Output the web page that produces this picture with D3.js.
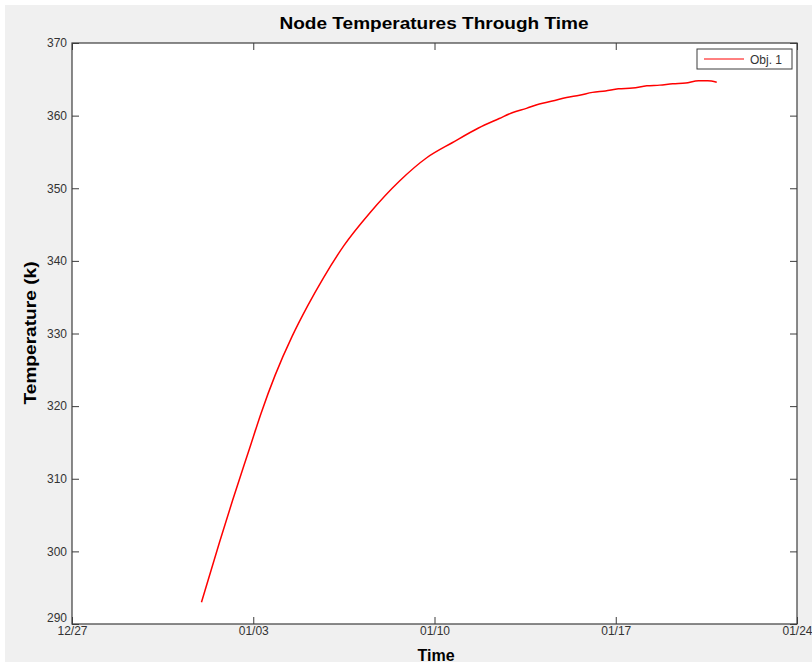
<!DOCTYPE html>
<html>
<head>
<meta charset="utf-8">
<script src="https://cdn.jsdelivr.net/npm/d3@7"></script>
<style>
  html, body { margin: 0; padding: 0; background: #ffffff; }
  svg { display: block; }
</style>
</head>
<body>
<svg id="chart" width="812" height="666"></svg>
<script>
// ---- data ----
const startDate = "2013-12-27";           // axis origin (12/27)
const endDate = "2014-01-24";             // axis end (01/24)
const xTickLabels = ["12/27", "01/03", "01/10", "01/17", "01/24"];
const yTicks = [290, 300, 310, 320, 330, 340, 350, 360, 370];
const seriesName = "Obj. 1";
// elapsed days since 12/27 and node temperature (K)
const elapsedDays = [5.00, 5.70, 6.20, 6.86, 7.30, 7.85, 8.50, 9.10, 9.70, 10.50, 11.50, 12.65, 13.70, 14.70, 15.70, 16.50, 17.00, 17.55, 18.05, 18.55, 19.10, 19.60, 20.10, 20.60, 21.10, 21.65, 22.20, 22.70, 23.20, 23.70, 24.20, 24.55, 24.90];
const temperatures = [293.0, 301.3, 307.0, 314.2, 319.0, 324.3, 329.6, 333.8, 337.6, 342.1, 346.6, 351.0, 354.2, 356.3, 358.3, 359.6, 360.4, 361.0, 361.6, 362.0, 362.5, 362.8, 363.2, 363.4, 363.7, 363.8, 364.1, 364.2, 364.4, 364.5, 364.8, 364.8, 364.6];

// ---- layout ----
const svg = d3.select("#chart");
const W = 812, H = 666;
const m = { left: 72, right: 797, top: 43, bottom: 624 };

svg.append("rect").attr("x", 5).attr("y", 5).attr("width", W - 5).attr("height", 657).attr("fill", "#f0f0f0");

const t0 = new Date(startDate + "T00:00:00Z");
const t1 = new Date(endDate + "T00:00:00Z");
const x = d3.scaleUtc().domain([t0, t1]).range([m.left, m.right]);
const y = d3.scaleLinear().domain([290, 370]).range([m.bottom, m.top]);

const data = elapsedDays.map((d, i) => ({ t: new Date(t0.getTime() + d * 864e5), v: temperatures[i] }));
const xTickDates = xTickLabels.map((_, i) => d3.utcDay.offset(t0, 7 * i));
const fmt = d3.utcFormat("%m/%d");

// plot area
svg.append("rect").attr("x", m.left).attr("y", m.top)
  .attr("width", m.right - m.left).attr("height", m.bottom - m.top)
  .attr("fill", "#ffffff");

const axisColor = "#3c3c3c";
const tickFont = "'Liberation Sans', Arial, sans-serif";

// bottom axis
const gx = svg.append("g").attr("transform", `translate(0,${m.bottom})`)
  .call(d3.axisBottom(x).tickValues(xTickDates).tickFormat(fmt).tickSizeInner(-7).tickSizeOuter(0).tickPadding(4));
gx.select(".domain").remove();
gx.selectAll("line").attr("stroke", axisColor);
gx.selectAll("text").attr("font-family", tickFont).attr("font-size", 12).attr("fill", "#333").attr("dy", "0.6em");

// top ticks
const gxt = svg.append("g").attr("transform", `translate(0,${m.top})`)
  .call(d3.axisTop(x).tickValues(xTickDates).tickFormat("").tickSizeInner(-7).tickSizeOuter(0));
gxt.select(".domain").remove();
gxt.selectAll("line").attr("stroke", axisColor);

// left axis
const gy = svg.append("g").attr("transform", `translate(${m.left},0)`)
  .call(d3.axisLeft(y).tickValues(yTicks).tickFormat(d3.format("d")).tickSizeInner(-7).tickSizeOuter(0).tickPadding(5));
gy.select(".domain").remove();
gy.selectAll("line").attr("stroke", axisColor);
gy.selectAll("text").attr("font-family", tickFont).attr("font-size", 12).attr("fill", "#333");
gy.selectAll(".tick").filter(d => d === 290).select("text").attr("dy", "-0.2em");

// right ticks
const gyr = svg.append("g").attr("transform", `translate(${m.right},0)`)
  .call(d3.axisRight(y).tickValues(yTicks).tickFormat("").tickSizeInner(-7).tickSizeOuter(0));
gyr.select(".domain").remove();
gyr.selectAll("line").attr("stroke", axisColor);

// axes box
svg.append("rect").attr("x", m.left).attr("y", m.top)
  .attr("width", m.right - m.left).attr("height", m.bottom - m.top)
  .attr("fill", "none").attr("stroke", axisColor).attr("stroke-width", 1.2);

// line
const line = d3.line().x(d => x(d.t)).y(d => y(d.v)).curve(d3.curveMonotoneX);
svg.append("path").datum(data).attr("d", line)
  .attr("fill", "none").attr("stroke", "#ff0000").attr("stroke-width", 1.5);

// title and labels
svg.append("text").attr("x", 434).attr("y", 29).attr("text-anchor", "middle")
  .attr("font-family", tickFont).attr("font-weight", "bold").attr("font-size", 17)
  .attr("textLength", 309).attr("lengthAdjust", "spacingAndGlyphs")
  .text("Node Temperatures Through Time");

svg.append("text").attr("transform", "translate(36,333) rotate(-90)").attr("text-anchor", "middle")
  .attr("font-family", tickFont).attr("font-weight", "bold").attr("font-size", 16)
  .attr("textLength", 143).attr("lengthAdjust", "spacingAndGlyphs")
  .text("Temperature (k)");

svg.append("text").attr("x", 436).attr("y", 661).attr("text-anchor", "middle")
  .attr("font-family", tickFont).attr("font-weight", "bold").attr("font-size", 16)
  .text("Time");

// legend
const lg = svg.append("g");
lg.append("rect").attr("x", 697).attr("y", 49).attr("width", 95).attr("height", 20)
  .attr("fill", "#ffffff").attr("stroke", axisColor).attr("stroke-width", 1);
lg.append("line").attr("x1", 704).attr("x2", 744).attr("y1", 59).attr("y2", 59)
  .attr("stroke", "#ff0000").attr("stroke-width", 1);
lg.append("text").attr("x", 750).attr("y", 63.5)
  .attr("font-family", tickFont).attr("font-size", 12).attr("fill", "#333")
  .text(seriesName);
</script>
</body>
</html>
